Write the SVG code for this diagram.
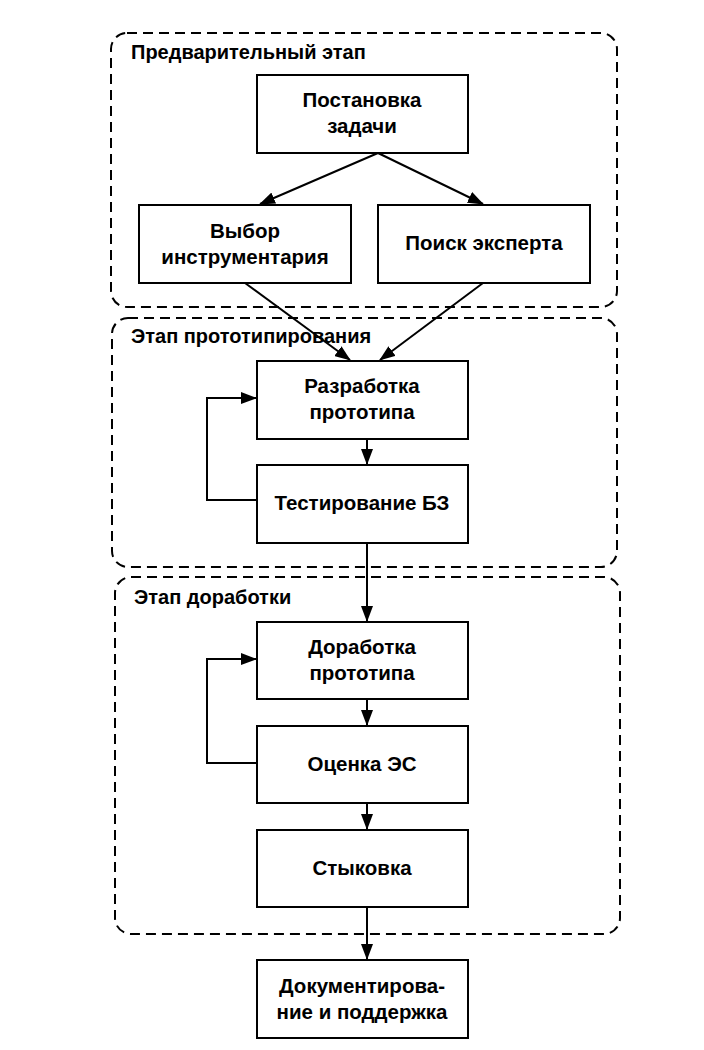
<svg xmlns="http://www.w3.org/2000/svg" width="704" height="1050" viewBox="0 0 704 1050">
<style>
.g{fill:none;stroke:#000;stroke-width:2;stroke-dasharray:10,6}
.b{fill:#fff;stroke:#000;stroke-width:2}
.t{font-family:"Liberation Sans",Arial,sans-serif;font-size:20.5px;font-weight:bold;fill:#000;text-anchor:middle}
.l{font-family:"Liberation Sans",Arial,sans-serif;font-size:20px;font-weight:bold;fill:#000}
.c{fill:none;stroke:#000;stroke-width:2;marker-end:url(#a)}
</style>
<defs><marker id="a" markerWidth="16" markerHeight="12" refX="15" refY="6" orient="auto" markerUnits="userSpaceOnUse" viewBox="0 0 16 12"><path d="M0,0 L16,6 L0,12 z"/></marker></defs>
<rect width="704" height="1050" fill="#fff"/>
<g id="stage1"><rect class="g" x="111" y="33" width="506" height="274" rx="16"/><text class="l" x="131" y="59">Предварительный этап</text></g>
<g id="stage2"><rect class="g" x="112" y="318" width="505" height="249" rx="16"/><text class="l" x="131" y="343">Этап прототипирования</text></g>
<g id="stage3"><rect class="g" x="115" y="577" width="505" height="357" rx="16"/><text class="l" x="134" y="604">Этап доработки</text></g>
<g id="n1"><rect class="b" x="257" y="75" width="211" height="78"/><text class="t" x="362" y="107">Постановка</text><text class="t" x="362" y="133">задачи</text></g>
<g id="n2"><rect class="b" x="139" y="205" width="212" height="78"/><text class="t" x="245" y="238">Выбор</text><text class="t" x="245" y="264">инструментария</text></g>
<g id="n3"><rect class="b" x="378" y="205" width="212" height="78"/><text class="t" x="484" y="250">Поиск эксперта</text></g>
<g id="n4"><rect class="b" x="257" y="361" width="211" height="78"/><text class="t" x="362" y="393">Разработка</text><text class="t" x="362" y="419">прототипа</text></g>
<g id="n5"><rect class="b" x="257" y="465" width="211" height="78"/><text class="t" x="362" y="510">Тестирование БЗ</text></g>
<g id="n6"><rect class="b" x="257" y="622" width="211" height="77"/><text class="t" x="362" y="654">Доработка</text><text class="t" x="362" y="680">прототипа</text></g>
<g id="n7"><rect class="b" x="257" y="726" width="211" height="77"/><text class="t" x="362" y="771">Оценка ЭС</text></g>
<g id="n8"><rect class="b" x="257" y="830" width="211" height="77"/><text class="t" x="362" y="875">Стыковка</text></g>
<g id="n9"><rect class="b" x="257" y="960" width="211" height="78"/><text class="t" x="362" y="993">Документирова-</text><text class="t" x="362" y="1019">ние и поддержка</text></g>
<g id="connectors">
<path class="c" d="M378,153 L260,204"/>
<path class="c" d="M378,153 L483,204"/>
<path class="c" d="M245,283 L350,360"/>
<path class="c" d="M483,283 L380,360"/>
<path class="c" d="M367,439 L367,464"/>
<path class="c" d="M257,500 L207,500 L207,398 L256,398"/>
<path class="c" d="M367,543 L367,621"/>
<path class="c" d="M367,699 L367,725"/>
<path class="c" d="M257,763 L207,763 L207,659 L256,659"/>
<path class="c" d="M367,803 L367,829"/>
<path class="c" d="M367,907 L367,959"/>
</g>
</svg>
